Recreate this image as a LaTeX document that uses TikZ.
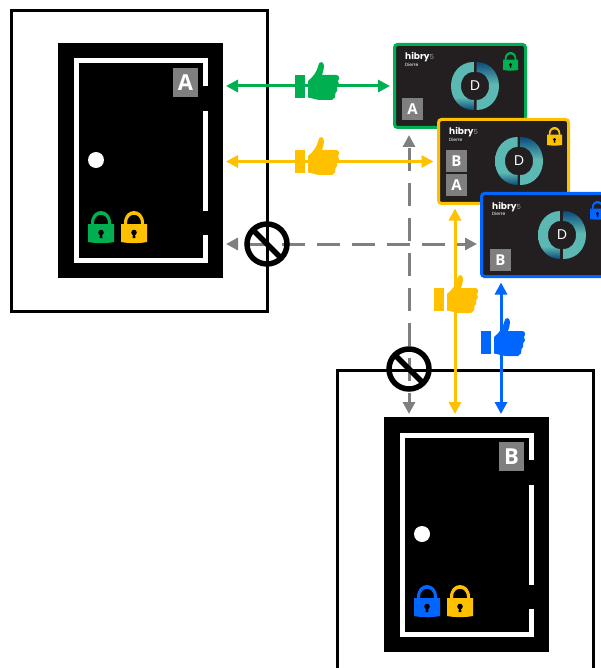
\documentclass[tikz,border=0pt]{standalone}
\usepackage{fontspec}
\setsansfont{Open Sans}
\newfontfamily\brandfont{Poppins}
\usetikzlibrary{arrows.meta,shapes.symbols}
\definecolor{cgreen}{HTML}{00B050}
\definecolor{cyellow}{HTML}{FFC000}
\definecolor{cblue}{HTML}{0066FF}
\definecolor{cgray}{HTML}{7F7F7F}
\definecolor{cardbg}{HTML}{231F20}
\definecolor{cteal}{HTML}{5CB8B2}
\definecolor{cdeep}{HTML}{0B4A7A}
\pgfdeclareverticalshading{ringleft}{100bp}{color(0bp)=(cdeep); color(25bp)=(cdeep); color(38bp)=(cteal); color(100bp)=(cteal)}
\pgfdeclareverticalshading{ringright}{100bp}{color(0bp)=(cteal); color(52bp)=(cteal); color(75bp)=(cdeep); color(100bp)=(cdeep)}
\newcommand{\halfring}{
  (-1.5,-24) .. controls (-15,-24) and (-24,-13) .. (-24,0)
  .. controls (-24,13) and (-15,24) .. (-1.5,24) -- (-1.5,14)
  .. controls (-9,14) and (-14,8) .. (-14,0)
  .. controls (-14,-8) and (-9,-14) .. (-1.5,-14) -- cycle
}
\tikzset{
  lock/.pic={
    \path[pic actions] (3,14) -- (3,12) .. controls (3,-4) and (23,-4) .. (23,12) -- (23,14)
      -- (20,14) -- (20,12) .. controls (20,1) and (6,1) .. (6,12) -- (6,14) -- cycle;
    \path[pic actions] (0,13) -- (26,13) -- (26,31) .. controls (18,32.5) and (8,32.5) .. (0,31) -- cycle;
    \fill[black] (13,21.5) circle[radius=2.8];
    \fill[black] (12,22) -- (14,22) -- (14.4,27) -- (11.6,27) -- cycle;
  },
  thumb/.pic={
    \path[pic actions] (0,0) rectangle (10,23);
    \path[pic actions] (13,6) .. controls (18,2) and (22,-3) .. (23.5,-10)
      .. controls (24,-14) and (29,-14) .. (29,-9) .. controls (29,-6) and (28,-3) .. (27,0)
      -- (41,0) .. controls (44,0) and (45,3) .. (43,6) .. controls (45,8) and (44,11) .. (42,12.5)
      .. controls (43,15) and (42,17) .. (40.5,18) .. controls (41,21) and (40,24) .. (37,25)
      -- (24,25) .. controls (20,25) and (18,23) .. (13,22.5) -- cycle;
  },
  door/.pic={
    \draw[doorline] (147,43) -- (147,18) -- (18,18) -- (18,217) -- (147,217) -- (147,192);
    \draw[doorline] (147,68) -- (147,168);
    \node[knob] (knob) at (38,117) {};
  },
  cardface/.pic={
    \shade[shading=ringleft, shift={(80.5,41.5)}] \halfring;
    \shade[shading=ringright, shift={(80.5,41.5)}, xscale=-1] \halfring;
    \node[logomark] (logo) at (80.5,41.5) {D};
    \node[brand] (brand) at (10.5,15.5) {hibry{\mdseries\color{white!60!black}\scriptsize 5}};
    \node[brand, font=\brandfont\fontsize{4.5}{5}\selectfont] (sub) at (10.5,21.8) {Dierre};
    \pic[fill=#1, scale=.58] at (108.5,7.5) {lock};
  },
  room/.style={draw, line width=3pt, minimum width=#1, anchor=north west, inner sep=0, outer sep=0},
  safe/.style={fill=black, minimum width=165pt, minimum height=235pt, anchor=north west, inner sep=0, outer sep=0},
  doorline/.style={white, line width=5pt},
  knob/.style={circle, fill=white, minimum size=16pt, inner sep=0},
  bigtag/.style={fill=cgray, text=white, font=\sffamily\bfseries\fontsize{22}{22}\selectfont, minimum width=25pt, minimum height=29pt, inner sep=0},
  smalltag/.style={fill=cgray, text=white, font=\sffamily\bfseries\fontsize{15}{15}\selectfont, minimum width=21pt, minimum height=22pt, inner sep=0},
  card/.style={draw=#1, fill=cardbg, line width=3pt, rounded corners=3pt, minimum height=83pt, minimum width=131pt, anchor=north west, inner sep=0, outer sep=0},
  logomark/.style={text=white, font=\brandfont\fontsize{14}{14}\selectfont, inner sep=0},
  brand/.style={text=white, anchor=base west, font=\brandfont\bfseries\fontsize{9}{10}\selectfont, inner sep=0},
  link/.style={line width=3pt, {Triangle[length=12pt,width=12pt]}-{Triangle[length=12pt,width=12pt]}},
  dashlink/.style={link, cgray, dash pattern=on 23pt off 12pt, dash phase=#1},
  stopsign/.style={forbidden sign, draw, rotate=90, line width=5.5pt, minimum size=40pt, inner sep=0},
}
\begin{document}
\begin{tikzpicture}[x=1pt, y=-1pt]
  \clip (0,0) rectangle (601,668);

  \node[room=256pt, minimum height=300pt] (roomA) at (11,11) {};
  \node[room=256pt, minimum height=340pt] (roomB) at (337,370) {};
  \node[safe] (safeA) at (58,43) {};
  \node[safe] (safeB) at (384,417) {};
  \pic (doorA) at (58,43) {door};
  \pic (doorB) at (384,417) {door};
  \node[bigtag] (tagA) at (185.5,82.5) {A};
  \node[bigtag] (tagB) at (511.5,456.5) {B};
  \pic[fill=cgreen] (lockA1) at (88,211) {lock};
  \pic[fill=cyellow] (lockA2) at (121,211) {lock};
  \pic[fill=cblue] (lockB1) at (414,585) {lock};
  \pic[fill=cyellow] (lockB2) at (447,585) {lock};

  \node[card=cgreen] (cardA) at (394.5,44.5) {};
  \pic (faceA) at (cardA.north west) {cardface=cgreen};
  \node[smalltag] (labelA) at (412.5,109) {A};
  \node[card=cyellow, minimum height=84pt, minimum width=130pt] (cardAB) at (438.5,119.5) {};
  \pic (faceAB) at (cardAB.north west) {cardface=cyellow};
  \node[smalltag] (labelAB1) at (456.5,161) {B};
  \node[smalltag] (labelAB2) at (456.5,185) {A};
  \node[card=cblue] (cardB) at (481.5,193.5) {};
  \pic (faceB) at (cardB.north west) {cardface=cblue};
  \node[smalltag] (labelB) at (500.5,260) {B};

  \coordinate (stopA) at (223,244);
  \coordinate (gapB) at (409,417);
  \coordinate (portY) at (455,417);
  \coordinate (portB) at (501,417);

  \draw[dashlink=25pt, shorten <=3pt, shorten >=4.5pt] (stopA) -- (stopA -| cardB.west);
  \draw[dashlink=33pt, shorten <=7.5pt, shorten >=3pt] (gapB |- cardA.south) -- (gapB);
  \draw[link, cgreen, shorten <=3pt, shorten >=4.5pt] (safeA.east |- cardA.west) -- (cardA.west);
  \draw[link, cyellow, shorten <=3pt, shorten >=5pt] (safeA.east |- cardAB.west) -- (cardAB.west);
  \draw[link, cyellow, shorten <=5pt, shorten >=3pt] (portY |- cardAB.south) -- (portY);
  \draw[link, cblue, shorten <=6pt, shorten >=3pt] (portB |- cardB.south) -- (portB);

  \pic[fill=cgreen] (thumbG) at (295,75) {thumb};
  \pic[fill=cyellow] (thumbY) at (295,150) {thumb};
  \pic[fill=cyellow] (thumbV) at (434,288) {thumb};
  \pic[fill=cblue] (thumbB) at (481,331) {thumb};

  \node[stopsign] (stopH) at (267,244) {};
  \node[stopsign] (stopV) at (409,369) {};
\end{tikzpicture}
\end{document}
